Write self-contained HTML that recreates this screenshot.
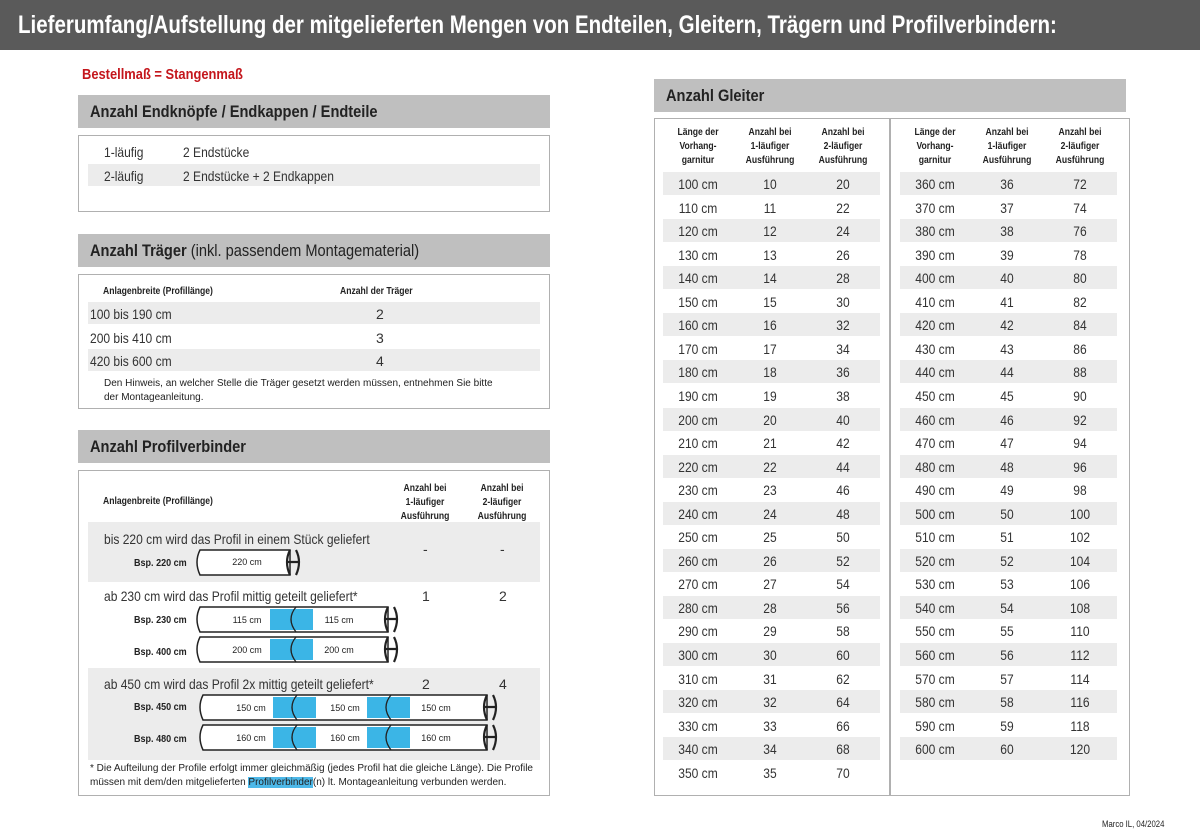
<!DOCTYPE html>
<html><head><meta charset="utf-8"><style>
*{margin:0;padding:0;box-sizing:border-box}
body{width:1200px;height:833px;background:#fff;position:relative;overflow:hidden;font-family:"Liberation Sans",sans-serif;color:#222}
.a{position:absolute;white-space:nowrap}
.hdr{background:#bfbfbf;height:33px;font-weight:bold;font-size:17px;padding:7px 12px}
.hdr span{display:inline-block;transform:scaleX(.86);transform-origin:left}
.box{border:1.5px solid #b0b0b0}
.g{background:#ececec}
.sm{font-size:10px;font-weight:bold}
.n{font-size:14px;color:#333}
.t{transform:scaleX(.86);transform-origin:left}
.c{text-align:center;transform:scaleX(.86);transform-origin:center}
</style></head><body>
<div class="a" style="left:0;top:0;width:1200px;height:50px;background:#5a5a5a"></div>
<div class="a" style="left:18px;top:11px;color:#fff;font-weight:bold;font-size:25px;transform:scaleX(0.82);transform-origin:left">Lieferumfang/Aufstellung der mitgelieferten Mengen von Endteilen, Gleitern, Trägern und Profilverbindern:</div>
<div class="a t" style="left:82px;top:66px;color:#c4161c;font-weight:bold;font-size:15px">Bestellmaß = Stangenmaß</div>

<div class="a hdr" style="left:78px;top:95px;width:472px"><span>Anzahl Endknöpfe / Endkappen / Endteile</span></div>
<div class="a box" style="left:78px;top:135px;width:472px;height:77px"></div>
<div class="a g" style="left:88px;top:164px;width:452px;height:22px"></div>
<div class="a n t" style="left:104px;top:144px">1-läufig</div><div class="a n t" style="left:183px;top:144px">2 Endstücke</div>
<div class="a n t" style="left:104px;top:168px">2-läufig</div><div class="a n t" style="left:183px;top:168px">2 Endstücke + 2 Endkappen</div>

<div class="a hdr" style="left:78px;top:234px;width:472px"><span>Anzahl Träger <span style="font-weight:normal;transform:none">(inkl. passendem Montagematerial)</span></span></div>
<div class="a box" style="left:78px;top:274px;width:472px;height:135px"></div>
<div class="a sm t" style="left:103px;top:286px">Anlagenbreite (Profillänge)</div><div class="a sm t" style="left:340px;top:286px">Anzahl der Träger</div>
<div class="a g" style="left:88px;top:302px;width:452px;height:22px"></div>
<div class="a g" style="left:88px;top:349px;width:452px;height:22px"></div>
<div class="a n t" style="left:90px;top:306px">100 bis 190 cm</div><div class="a n" style="left:376px;top:306px">2</div>
<div class="a n t" style="left:90px;top:330px">200 bis 410 cm</div><div class="a n" style="left:376px;top:330px">3</div>
<div class="a n t" style="left:90px;top:353px">420 bis 600 cm</div><div class="a n" style="left:376px;top:353px">4</div>
<div class="a" style="left:104px;top:377px;font-size:10px;line-height:14px">Den Hinweis, an welcher Stelle die Träger gesetzt werden müssen, entnehmen Sie bitte<br>der Montageanleitung.</div>

<div class="a hdr" style="left:78px;top:430px;width:472px"><span>Anzahl Profilverbinder</span></div>
<div class="a box" style="left:78px;top:470px;width:472px;height:326px"></div>
<div class="a sm t" style="left:103px;top:496px">Anlagenbreite (Profillänge)</div>
<div class="a sm c" style="left:390px;top:482px;width:70px;line-height:14px">Anzahl bei<br>1-läufiger<br>Ausführung</div>
<div class="a sm c" style="left:467px;top:482px;width:70px;line-height:14px">Anzahl bei<br>2-läufiger<br>Ausführung</div>
<div class="a g" style="left:88px;top:522px;width:452px;height:60px"></div>
<div class="a g" style="left:88px;top:668px;width:452px;height:92px"></div>
<div class="a n t" style="left:104px;top:531px">bis 220 cm wird das Profil in einem Stück geliefert</div>
<div class="a n" style="left:423px;top:541px">-</div><div class="a n" style="left:500px;top:541px">-</div>
<div class="a n t" style="left:104px;top:588px">ab 230 cm wird das Profil mittig geteilt geliefert*</div>
<div class="a n" style="left:422px;top:588px">1</div><div class="a n" style="left:499px;top:588px">2</div>
<div class="a n t" style="left:104px;top:676px">ab 450 cm wird das Profil 2x mittig geteilt geliefert*</div>
<div class="a n" style="left:422px;top:676px">2</div><div class="a n" style="left:499px;top:676px">4</div>
<div class="a sm t" style="left:134px;top:557px;font-size:10.5px">Bsp. 220 cm</div>
<div class="a sm t" style="left:134px;top:614px;font-size:10.5px">Bsp. 230 cm</div>
<div class="a sm t" style="left:134px;top:646px;font-size:10.5px">Bsp. 400 cm</div>
<div class="a sm t" style="left:134px;top:701px;font-size:10.5px">Bsp. 450 cm</div>
<div class="a sm t" style="left:134px;top:733px;font-size:10.5px">Bsp. 480 cm</div>
<svg class="a" style="left:0;top:0" width="600" height="800" font-family="Liberation Sans" font-size="9" text-anchor="middle">
<g fill="#fff" stroke="#222" stroke-width="1.5">
<path d="M200 550 H290 V575 H200 Q194 562 200 550Z"/>
<path d="M200 607 H388 V632 H200 Q194 619 200 607Z"/>
<path d="M200 637 H388 V662 H200 Q194 649 200 637Z"/>
<path d="M203 695 H487 V720 H203 Q197 707 203 695Z"/>
<path d="M203 725 H487 V750 H203 Q197 737 203 725Z"/>
</g>
<g fill="#3bb5e6">
<rect x="270" y="609" width="43" height="21"/><rect x="270" y="639" width="43" height="21"/>
<rect x="273" y="697" width="43" height="21"/><rect x="367" y="697" width="43" height="21"/>
<rect x="273" y="727" width="43" height="21"/><rect x="367" y="727" width="43" height="21"/>
</g>
<g fill="none" stroke="#222" stroke-width="1.3">
<path d="M296 607 Q286 619 296 632"/><path d="M296 637 Q286 649 296 662"/>
<path d="M297 695 Q287 707 297 720"/><path d="M391 695 Q381 707 391 720"/>
<path d="M297 725 Q287 737 297 750"/><path d="M391 725 Q381 737 391 750"/>
<g stroke-width="2.2">
<path d="M290 550 Q284 562 290 575 M296 550 Q302 562 296 575 M288 562 H298"/>
<path d="M388 607 Q382 619 388 632 M394 607 Q400 619 394 632 M386 619 H396"/>
<path d="M388 637 Q382 649 388 662 M394 637 Q400 649 394 662 M386 649 H396"/>
<path d="M487 695 Q481 707 487 720 M493 695 Q499 707 493 720 M485 707 H495"/>
<path d="M487 725 Q481 737 487 750 M493 725 Q499 737 493 750 M485 737 H495"/>
</g></g>
<g fill="#222">
<text x="247" y="565">220 cm</text>
<text x="247" y="623">115 cm</text><text x="339" y="623">115 cm</text>
<text x="247" y="653">200 cm</text><text x="339" y="653">200 cm</text>
<text x="251" y="711">150 cm</text><text x="345" y="711">150 cm</text><text x="436" y="711">150 cm</text>
<text x="251" y="741">160 cm</text><text x="345" y="741">160 cm</text><text x="436" y="741">160 cm</text>
</g></svg>
<div class="a" style="left:90px;top:762px;font-size:10px;line-height:14px">* Die Aufteilung der Profile erfolgt immer gleichmäßig (jedes Profil hat die gleiche Länge). Die Profile<br>müssen mit dem/den mitgelieferten <span style="background:#4db8e8">Profilverbinder</span>(n) lt. Montageanleitung verbunden werden.</div>

<div class="a hdr" style="left:654px;top:79px;width:472px"><span>Anzahl Gleiter</span></div>
<div class="a box" style="left:654px;top:118px;width:476px;height:678px"></div>
<div class="a" style="left:889px;top:118px;width:1.5px;height:678px;background:#b0b0b0"></div>
<div id="tb"></div>
<script>
var h='';
var cols=[[663,698,770,843,100,26],[900,935,1007,1080,360,25]];
cols.forEach(function(c){
 ['Länge der<br>Vorhang-<br>garnitur','Anzahl bei<br>1-läufiger<br>Ausführung','Anzahl bei<br>2-läufiger<br>Ausführung'].forEach(function(t,i){
  h+='<div class="a sm c" style="left:'+(c[i+1]-40)+'px;top:126px;width:80px;line-height:14px">'+t+'</div>';});
 for(var r=0;r<c[5];r++){var v=c[4]+r*10,y=172+r*23.55;
  if(r%2==0)h+='<div class="a g" style="left:'+c[0]+'px;top:'+y+'px;width:217px;height:23px"></div>';
  var ty=y+4;
  h+='<div class="a n c" style="left:'+(c[1]-40)+'px;top:'+ty+'px;width:80px">'+v+' cm</div>';
  h+='<div class="a n c" style="left:'+(c[2]-40)+'px;top:'+ty+'px;width:80px">'+(v/10)+'</div>';
  h+='<div class="a n c" style="left:'+(c[3]-40)+'px;top:'+ty+'px;width:80px">'+(v/5)+'</div>';
 }});
document.getElementById('tb').innerHTML=h;
</script>
<div class="a t" style="left:1102px;top:819px;font-size:9px">Marco IL, 04/2024</div>
</body></html>
